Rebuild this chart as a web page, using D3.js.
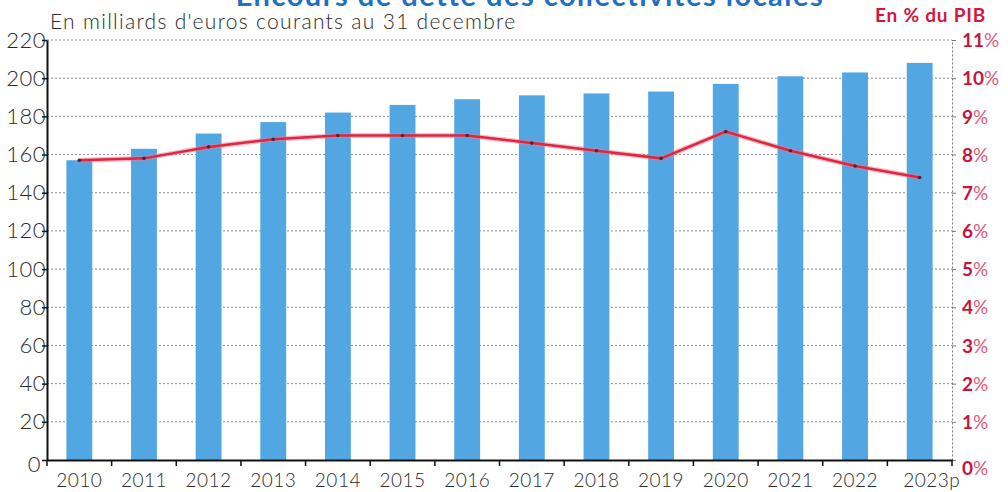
<!DOCTYPE html>
<html>
<head>
<meta charset="utf-8">
<script src="https://cdn.jsdelivr.net/npm/d3@7"></script>
<style>
  body { margin: 0; background: #fff; }
  svg { display: block; font-family: Lato, "Open Sans", sans-serif; }
</style>
</head>
<body>
<svg id="chart" width="1008" height="492"></svg>
<script>
// données
const years = ["2010", "2011", "2012", "2013", "2014", "2015", "2016", "2017", "2018", "2019", "2020", "2021", "2022", "2023p"];
const encours = [157, 163, 171, 177, 182, 186, 189, 191, 192, 193, 197, 201, 203, 208];
const pctPib = [7.85, 7.9, 8.2, 8.4, 8.5, 8.5, 8.5, 8.3, 8.1, 7.9, 8.6, 8.1, 7.7, 7.4];
const leftTicks = [0, 20, 40, 60, 80, 100, 120, 140, 160, 180, 200, 220];
const rightTicks = [0, 1, 2, 3, 4, 5, 6, 7, 8, 9, 10, 11];

const svg = d3.select("#chart");
const margin = {left: 47, right: 56, top: 40, bottom: 32};
const width = 1008 - margin.left - margin.right;
const height = 492 - margin.top - margin.bottom;

const g = svg.append("g").attr("transform", `translate(${margin.left},${margin.top})`);

const x = d3.scaleBand().domain(years).range([0, width]).paddingInner(0.6).paddingOuter(0.3);
const y = d3.scaleLinear().domain([0, 220]).range([height, 0]);
const y2 = d3.scaleLinear().domain([0, 11]).range([height, 0]);

// titre (coupé en haut dans l'original)
svg.append("text")
  .attr("x", 530).attr("y", 6)
  .attr("text-anchor", "middle")
  .attr("fill", "#1f6fc2")
  .style("font-size", "29px").style("font-weight", 700)
  .style("letter-spacing", "1.5px")
  .text("Encours de dette des collectivités locales");

svg.append("text")
  .attr("x", 50).attr("y", 29)
  .attr("fill", "#2a2a2a")
  .style("font-size", "21px").style("font-weight", 300)
  .style("letter-spacing", "1.3px")
  .text("En milliards d'euros courants au 31 decembre");

svg.append("text")
  .attr("x", 986).attr("y", 22)
  .attr("text-anchor", "end")
  .attr("fill", "#d3163f")
  .style("font-size", "19px").style("font-weight", 700)
  .style("letter-spacing", "0.8px")
  .text("En % du PIB");

// grille pointillée
g.append("g").selectAll("line")
  .data(leftTicks.filter(d => d > 0))
  .enter().append("line")
  .attr("x1", 0).attr("x2", width)
  .attr("y1", d => y(d)).attr("y2", d => y(d))
  .attr("stroke", "#8a8a95")
  .attr("stroke-width", 1)
  .attr("stroke-dasharray", "2,2");

// barres
g.append("g").selectAll("rect")
  .data(encours)
  .enter().append("rect")
  .attr("x", (d, i) => x(years[i]))
  .attr("y", d => y(d))
  .attr("width", x.bandwidth())
  .attr("height", d => height - y(d))
  .attr("fill", "#52a7e2");

// courbe % du PIB
const line = d3.line()
  .x((d, i) => x(years[i]) + x.bandwidth() / 2)
  .y(d => y2(d));

g.append("path")
  .datum(pctPib)
  .attr("fill", "none")
  .attr("stroke", "#f07a8c")
  .attr("stroke-width", 5)
  .attr("stroke-opacity", 0.5)
  .attr("d", line);

g.append("path")
  .datum(pctPib)
  .attr("fill", "none")
  .attr("stroke", "#e0253f")
  .attr("stroke-width", 2.5)
  .attr("d", line);

g.append("g").selectAll("circle")
  .data(pctPib)
  .enter().append("circle")
  .attr("cx", (d, i) => x(years[i]) + x.bandwidth() / 2)
  .attr("cy", d => y2(d))
  .attr("r", 1.8)
  .attr("fill", "#5a1f33");

// axe gauche
const axL = g.append("g")
  .call(d3.axisLeft(y).tickValues(leftTicks).tickSize(5).tickPadding(-4).tickSizeOuter(0));
axL.select(".domain").attr("stroke", "#111").attr("stroke-width", 2);
axL.selectAll(".tick line").attr("stroke", "#111").attr("stroke-width", 1.5);
axL.selectAll(".tick text")
  .attr("fill", "#2a2a2a")
  .style("font-family", "Lato, sans-serif")
  .style("font-size", "22px").style("font-weight", 300)
  .style("letter-spacing", "0.5px");
axL.select(".tick:first-of-type text").attr("x", -6).attr("dy", "0.5em");

// axe droit
const axR = g.append("g")
  .attr("transform", `translate(${width},0)`)
  .call(d3.axisRight(y2).tickValues(rightTicks).tickSize(4).tickPadding(6).tickSizeOuter(0));
axR.select(".domain").attr("stroke", "#777").attr("stroke-width", 1).attr("stroke-dasharray", "2,2");
axR.selectAll(".tick line").attr("stroke", "#777");
axR.selectAll(".tick text").remove();
axR.selectAll(".tick").append("text")
  .attr("x", 10).attr("dy", "0.35em")
  .style("font-family", "Lato, sans-serif")
  .style("font-size", "19px")
  .each(function(d) {
    const t = d3.select(this);
    t.append("tspan").attr("fill", "#c8143c").style("font-weight", 700).text(d);
    t.append("tspan").attr("fill", "#e05a78").style("font-weight", 400).text("%");
  });
axR.select(".tick:first-of-type text").attr("dy", "0.75em");

// axe du bas
const axB = g.append("g")
  .attr("transform", `translate(0,${height})`)
  .call(d3.axisBottom(x).tickSize(0).tickPadding(14).tickSizeOuter(0));
axB.select(".domain").attr("stroke", "#111").attr("stroke-width", 2);
axB.selectAll(".tick text")
  .attr("fill", "#2a2a2a")
  .style("font-family", "Lato, sans-serif")
  .style("font-size", "19px").style("font-weight", 300)
  .style("letter-spacing", "0.5px");
axB.select(".tick:last-of-type text").attr("dx", 12);

// petites graduations entre les catégories
const step = x.step();
axB.append("g").selectAll("line")
  .data(d3.range(years.length + 1))
  .enter().append("line")
  .attr("x1", i => Math.min(width, i * step))
  .attr("x2", i => Math.min(width, i * step))
  .attr("y1", 0).attr("y2", 6)
  .attr("stroke", "#111").attr("stroke-width", 1.5);
</script>
</body>
</html>
